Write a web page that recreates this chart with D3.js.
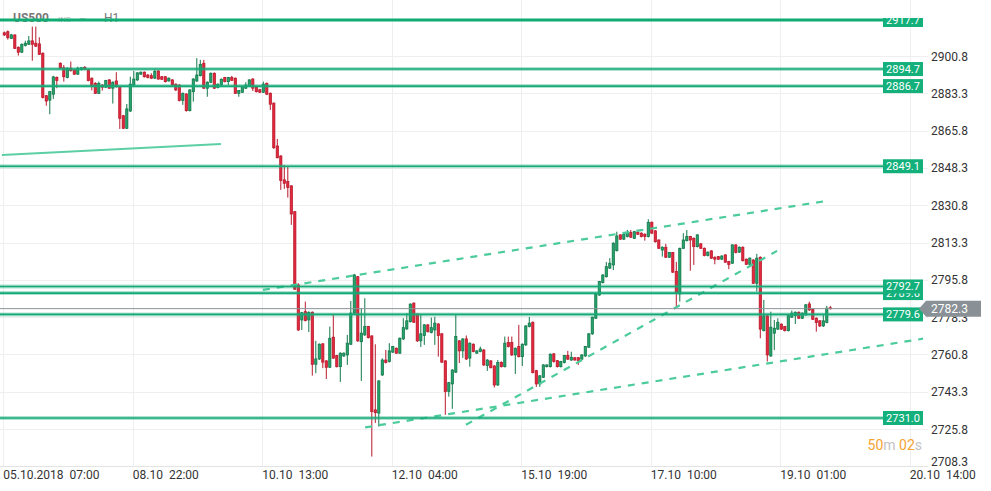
<!DOCTYPE html>
<html>
<head>
<meta charset="utf-8">
<script src="https://cdn.jsdelivr.net/npm/d3@7"></script>
<style>
  html, body { margin: 0; padding: 0; background: #fff; }
  svg { display: block; font-family: Roboto, "Noto Sans", sans-serif; }
</style>
</head>
<body>
<div id="chart"></div>
<script>
// hourly candles, 05.10.2018 07:00 onwards
var open = [2911.7,2912.2,2909.1,2910.7,2904.9,2902.6,2905.7,2906.3,2907.9,2906.8,2906.5,2902.1,2882.2,2880.1,2882.9,2890.8,2897.4,2895.3,2890.7,2895.1,
  2894.3,2892.3,2894.4,2895.5,2894.3,2890.4,2888.0,2883.3,2887.2,2886.2,2889.6,2885.7,2889.1,2886.4,2872.8,2866.9,2875.0,2887.2,2889.6,2892.3,
  2893.2,2891.9,2891.6,2890.4,2893.8,2891.1,2891.1,2889.1,2889.6,2887.6,2887.2,2879.9,2883.0,2875.2,2884.1,2889.1,2891.6,2897.4,2885.7,2888.5,
  2892.7,2886.0,2887.2,2890.7,2888.8,2890.7,2890.4,2883.3,2883.8,2885.7,2886.8,2890.0,2886.0,2885.0,2883.8,2888.0,2883.3,2878.7,2858.6,2853.9,
  2842.7,2841.9,2839.9,2827.8,2793.4,2777.0,2780.9,2777.0,2780.6,2756.2,2758.7,2765.8,2757.8,2754.8,2768.9,2760.3,2755.1,2760.1,2760.6,2765.6,
  2780.2,2797.3,2766.8,2770.0,2773.9,2769.5,2734.8,2733.3,2751.2,2758.2,2757.5,2761.9,2763.7,2761.4,2768.1,2772.8,2776.2,2784.9,2779.7,2767.2,
  2769.7,2774.7,2771.1,2772.3,2775.1,2770.5,2757.8,2743.4,2747.0,2752.5,2767.2,2762.5,2768.1,2759.1,2765.6,2761.4,2762.2,2762.9,2755.6,2757.8,
  2755.4,2746.5,2757.0,2755.1,2766.4,2766.4,2760.6,2764.5,2759.8,2765.3,2773.9,2775.9,2753.2,2747.0,2750.1,2755.1,2755.1,2761.1,2757.9,2755.1,
  2757.0,2760.3,2758.2,2759.3,2759.3,2758.6,2760.1,2764.2,2770.5,2777.8,2788.7,2794.5,2797.3,2801.3,2802.8,2809.5,2816.9,2814.9,2816.1,2818.0,
  2815.3,2818.1,2817.7,2817.2,2816.1,2822.8,2818.8,2814.5,2809.8,2811.1,2806.4,2808.6,2799.7,2789.2,2810.6,2814.2,2816.1,2815.3,2811.4,2812.7,
  2810.6,2807.2,2809.4,2806.4,2806.7,2805.5,2807.5,2804.4,2803.6,2812.2,2808.8,2811.1,2805.5,2803.1,2805.1,2794.2,2806.4,2772.0,2778.9,2760.1,
  2770.8,2772.7,2775.0,2773.9,2772.0,2778.3,2779.0,2780.6,2777.8,2779.4,2784.5,2782.0,2777.8,2776.6,2774.2,2775.8,2782.7];
var high = [2912.3,2912.8,2911.2,2910.9,2905.3,2906.7,2908.0,2910.2,2914.6,2914.6,2909.6,2902.5,2882.5,2884.4,2891.5,2891.2,2897.8,2896.6,2895.5,2898.2,
  2894.6,2895.8,2895.7,2896.1,2894.6,2890.7,2888.5,2888.8,2887.5,2889.6,2889.9,2888.9,2893.2,2886.8,2873.2,2878.3,2891.1,2893.8,2893.2,2893.6,
  2893.6,2892.3,2892.7,2894.7,2894.1,2891.4,2891.4,2890.7,2889.9,2887.9,2887.5,2883.7,2883.3,2885.2,2890.4,2899.8,2899.0,2899.0,2888.9,2893.1,
  2893.1,2887.9,2890.3,2891.0,2891.0,2891.5,2890.7,2884.9,2886.8,2888.5,2889.9,2890.4,2886.3,2885.4,2888.8,2888.4,2883.7,2879.0,2861.9,2854.3,
  2849.7,2849.2,2840.2,2828.1,2794.2,2780.8,2785.6,2781.0,2781.0,2767.2,2766.0,2766.1,2758.1,2773.9,2779.4,2760.6,2761.8,2761.8,2770.0,2785.9,
  2798.6,2797.6,2782.6,2787.2,2774.2,2769.8,2765.6,2748.7,2759.0,2762.9,2766.1,2764.8,2764.1,2768.8,2777.8,2780.2,2784.8,2785.2,2780.1,2779.4,
  2775.0,2775.0,2778.1,2778.5,2775.5,2770.8,2758.1,2747.9,2753.9,2779.4,2767.5,2768.4,2769.7,2766.5,2766.0,2762.8,2764.5,2763.3,2758.6,2758.1,
  2755.8,2758.2,2757.6,2769.2,2769.2,2769.2,2764.1,2774.7,2766.0,2774.5,2778.4,2776.3,2753.6,2751.1,2756.2,2756.2,2761.3,2761.4,2758.2,2757.8,
  2760.6,2762.5,2762.1,2759.6,2759.6,2760.9,2764.8,2770.8,2778.5,2789.4,2795.3,2798.4,2804.2,2806.0,2813.4,2818.4,2817.2,2817.6,2819.2,2819.2,
  2818.8,2819.2,2818.1,2817.6,2824.2,2823.2,2819.1,2814.8,2811.5,2812.7,2808.9,2808.9,2804.2,2810.9,2817.7,2819.2,2816.4,2815.7,2817.2,2813.0,
  2811.0,2809.1,2809.7,2806.8,2807.0,2807.3,2807.8,2804.7,2812.5,2812.5,2811.5,2811.5,2805.8,2806.3,2805.5,2808.0,2806.8,2786.4,2779.2,2780.9,
  2777.0,2777.8,2775.4,2774.2,2779.4,2781.4,2781.0,2781.0,2780.5,2784.4,2785.6,2782.4,2778.2,2776.9,2779.7,2783.6,2783.6];
var low = [2910.2,2908.5,2908.8,2904.1,2901.0,2902.2,2905.3,2906.0,2898.6,2905.1,2901.3,2880.9,2877.5,2873.5,2880.7,2885.7,2894.7,2888.8,2890.3,2893.6,
  2891.9,2891.9,2894.0,2894.3,2888.9,2884.7,2883.0,2883.0,2884.6,2885.8,2885.4,2878.5,2886.0,2866.6,2866.6,2866.6,2874.6,2886.8,2889.1,2891.9,
  2890.7,2890.3,2890.0,2890.0,2889.7,2889.6,2888.4,2888.8,2886.8,2884.4,2879.5,2877.9,2874.7,2874.8,2879.4,2888.6,2891.2,2885.4,2881.7,2888.1,
  2885.4,2885.6,2886.8,2888.4,2887.2,2889.1,2883.0,2881.7,2883.5,2885.4,2886.3,2884.4,2883.7,2883.5,2883.5,2882.5,2875.5,2857.2,2852.8,2838.0,
  2838.5,2834.4,2821.6,2791.1,2771.9,2772.3,2776.3,2771.3,2750.9,2752.0,2758.2,2754.4,2749.3,2754.5,2758.7,2754.7,2747.9,2759.7,2755.9,2765.3,
  2779.8,2766.7,2748.4,2769.5,2768.3,2712.9,2728.7,2727.0,2750.7,2756.6,2757.0,2761.5,2761.1,2761.1,2767.6,2772.3,2775.8,2775.6,2766.7,2764.3,
  2765.3,2771.1,2770.7,2765.3,2759.8,2756.8,2732.5,2741.0,2735.3,2752.1,2756.8,2759.2,2758.2,2755.1,2761.8,2761.1,2761.8,2755.4,2753.1,2754.3,
  2745.3,2746.0,2754.7,2754.7,2764.1,2760.1,2751.7,2759.4,2755.4,2764.8,2773.5,2751.9,2745.6,2745.6,2749.8,2754.7,2754.7,2757.0,2754.7,2754.7,
  2756.6,2758.2,2757.8,2757.9,2755.9,2758.2,2759.7,2763.9,2770.0,2777.5,2788.3,2794.1,2796.9,2800.9,2800.4,2809.1,2814.5,2814.5,2815.7,2815.5,
  2815.0,2816.9,2815.7,2814.2,2815.7,2817.3,2813.3,2810.3,2806.7,2806.1,2806.1,2799.0,2783.1,2785.6,2810.3,2813.8,2800.1,2802.8,2811.0,2810.3,
  2806.8,2806.8,2805.6,2803.1,2805.1,2805.1,2803.7,2800.8,2803.3,2808.2,2808.4,2804.4,2802.8,2802.8,2793.9,2790.3,2768.4,2771.6,2757.5,2759.7,
  2762.9,2772.3,2772.3,2771.6,2771.6,2778.0,2775.1,2777.5,2777.5,2778.9,2781.2,2777.0,2771.5,2773.7,2773.7,2775.4,2782.0];
var close = [2910.7,2909.4,2910.7,2904.4,2902.6,2906.3,2906.8,2907.9,2906.3,2905.4,2901.6,2881.3,2879.7,2884.1,2891.0,2889.3,2895.1,2891.1,2895.1,2893.9,
  2892.3,2895.1,2895.3,2894.6,2889.3,2886.8,2883.3,2888.0,2886.2,2889.3,2885.7,2888.5,2886.4,2871.6,2866.9,2876.0,2887.6,2890.0,2892.9,2893.2,
  2891.1,2890.7,2890.4,2893.5,2890.0,2889.9,2888.8,2890.4,2887.2,2884.9,2879.9,2883.3,2875.2,2884.9,2890.0,2891.9,2896.9,2885.7,2888.5,2892.7,
  2885.7,2887.6,2889.9,2888.8,2890.7,2889.4,2883.3,2884.6,2886.4,2887.2,2889.6,2885.7,2884.1,2883.8,2887.6,2882.9,2878.2,2857.8,2853.1,2842.4,
  2841.1,2839.1,2826.7,2791.4,2772.3,2780.4,2776.7,2780.6,2756.2,2758.7,2765.6,2757.2,2754.8,2768.4,2759.1,2755.1,2761.4,2761.4,2766.1,2780.2,
  2798.1,2767.2,2770.8,2773.9,2768.7,2734.0,2733.5,2748.4,2758.2,2757.0,2762.5,2764.5,2761.4,2768.4,2773.4,2776.6,2784.4,2775.9,2767.2,2770.5,
  2774.7,2771.5,2773.4,2775.5,2769.7,2757.2,2743.4,2747.6,2753.5,2769.2,2762.5,2768.1,2758.7,2766.1,2762.2,2762.5,2763.4,2755.9,2758.2,2754.6,
  2746.5,2757.0,2755.1,2766.1,2764.5,2760.6,2763.7,2759.8,2765.6,2774.2,2775.5,2752.3,2747.0,2750.8,2755.9,2755.9,2760.9,2757.5,2755.1,2757.5,
  2760.3,2758.6,2759.5,2758.2,2758.0,2760.6,2764.5,2770.5,2778.3,2789.1,2795.0,2798.1,2802.0,2803.6,2813.0,2816.4,2814.9,2817.2,2818.0,2815.8,
  2818.4,2817.2,2816.1,2816.1,2822.8,2817.7,2813.7,2810.6,2811.1,2806.4,2808.6,2799.4,2789.8,2810.6,2814.5,2816.1,2814.5,2811.4,2816.9,2810.6,
  2807.2,2808.8,2806.0,2805.5,2805.5,2807.0,2804.1,2803.0,2812.2,2808.6,2811.1,2804.8,2803.1,2806.0,2794.2,2806.0,2772.7,2778.9,2760.6,2773.6,
  2773.1,2775.9,2772.7,2772.0,2779.0,2780.2,2780.6,2777.8,2780.2,2784.1,2781.7,2777.3,2775.8,2774.2,2776.6,2782.5,2782.3];

var tickIdx = [0, 37, 74, 111, 148, 185, 222, 259];
var tickLabels = ["05.10.2018  07:00", "08.10  22:00", "10.10  13:00", "12.10  04:00",
                  "15.10  19:00", "17.10  10:00", "19.10  01:00", "20.10  14:00"];
var yTicks = [2900.8, 2883.3, 2865.8, 2848.3, 2830.8, 2813.3, 2795.8, 2778.3, 2760.8, 2743.3, 2725.8, 2708.3];

// horizontal levels (2789.6 first so its tag sits behind 2792.7)
var levels = [2917.7, 2894.7, 2886.7, 2849.1, 2789.6, 2792.7, 2779.6, 2731.0];
var lastPrice = 2782.3;

// trend lines as [candle index, price] pairs
var solidLine = [[-0.7, 2854.4], [61.9, 2859.5]];
var dashLines = [
  [[73.9, 2791.1], [234.8, 2832.8]],
  [[103.1, 2726.6], [262.5, 2768.2]],
  [[131.9, 2727.8], [220.8, 2809.4]]
];

var W = 991, H = 491;
var plotR = 923, plotB = 466;

var x = d3.scaleLinear().domain([0, 259]).range([4.3, 910.8]);
var y = d3.scaleLinear().domain([2708.3, 2917.7]).range([466.4, 20]);

var svg = d3.select("#chart").append("svg")
    .attr("width", W).attr("height", H);

// grid
svg.append("g").selectAll("line")
   .data(yTicks.slice(0, -1)).enter().append("line")
   .attr("x1", 0).attr("x2", 928)
   .attr("y1", function(d) { return Math.round(y(d)) + 0.5; })
   .attr("y2", function(d) { return Math.round(y(d)) + 0.5; })
   .attr("stroke", "#efefef");

svg.append("g").selectAll("line")
   .data(tickIdx).enter().append("line")
   .attr("x1", function(d) { return Math.round(x(d)) - 0.5; })
   .attr("x2", function(d) { return Math.round(x(d)) - 0.5; })
   .attr("y1", 0).attr("y2", plotB + 1)
   .attr("stroke", "#efefef");

svg.append("line")
   .attr("x1", 0).attr("x2", 928).attr("y1", plotB + 0.5).attr("y2", plotB + 0.5)
   .attr("stroke", "#e3e3e3");

// title
var title = svg.append("text").attr("x", 13).attr("y", 22).attr("fill", "#777");
title.append("tspan").text("US500").attr("font-size", 12).attr("font-weight", "bold");
title.append("tspan").text("IND").attr("x", 58).attr("font-size", 8).attr("fill", "#b5b5b5");
title.append("tspan").text("—").attr("x", 79).attr("font-size", 9).attr("fill", "#b5b5b5");
title.append("tspan").text("H1").attr("x", 104).attr("font-size", 12);

// candles
var idx = d3.range(open.length);
var upFill = "#27a26d", upLine = "#12784a";
var dnFill = "#e4283e", dnLine = "#b8192c";

var candles = svg.append("g").selectAll("g")
   .data(idx).enter().append("g");

candles.append("line")
   .attr("x1", function(i) { return x(i); })
   .attr("x2", function(i) { return x(i); })
   .attr("y1", function(i) { return y(high[i]); })
   .attr("y2", function(i) { return y(low[i]); })
   .attr("stroke", function(i) { return close[i] >= open[i] ? upLine : dnLine; })
   .attr("stroke-width", 1);

candles.append("rect")
   .attr("x", function(i) { return x(i) - 1.1; })
   .attr("width", 2.2)
   .attr("y", function(i) { return y(Math.max(open[i], close[i])); })
   .attr("height", function(i) { return Math.max(1, Math.abs(y(open[i]) - y(close[i]))); })
   .attr("fill", function(i) { return close[i] >= open[i] ? upFill : dnFill; })
   .attr("stroke", function(i) { return close[i] >= open[i] ? upLine : dnLine; })
   .attr("stroke-width", 0.8);

// trend lines
var line = d3.line()
   .x(function(d) { return x(d[0]); })
   .y(function(d) { return y(d[1]); });

svg.append("path").datum(solidLine)
   .attr("d", line).attr("fill", "none")
   .attr("stroke", "#5ccfa4").attr("stroke-width", 2);

svg.append("g").selectAll("path")
   .data(dashLines).enter().append("path")
   .attr("d", line).attr("fill", "none")
   .attr("stroke", "#4ccb9b").attr("stroke-width", 2.2)
   .attr("stroke-dasharray", "7,7");

// current price line
svg.append("line")
   .attr("x1", 0).attr("x2", plotR)
   .attr("y1", y(lastPrice)).attr("y2", y(lastPrice))
   .attr("stroke", "#8b9398").attr("stroke-width", 1);

// level lines
var lv = svg.append("g").selectAll("g")
   .data(levels).enter().append("g");

lv.append("line")
   .attr("x1", 0).attr("x2", plotR)
   .attr("y1", function(d) { return y(d); })
   .attr("y2", function(d) { return y(d); })
   .attr("stroke", function(d, i) { return i === 0 ? "#0fac74" : "rgba(24,175,122,0.35)"; })
   .attr("stroke-width", function(d, i) { return i === 0 ? 3 : 4; });

lv.filter(function(d, i) { return i > 0; }).append("line")
   .attr("x1", 0).attr("x2", plotR)
   .attr("y1", function(d) { return y(d); })
   .attr("y2", function(d) { return y(d); })
   .attr("stroke", "#16a877").attr("stroke-width", 1.6);

// level tags
svg.append("clipPath").attr("id", "tagclip")
   .append("rect").attr("x", 0).attr("y", 18).attr("width", W).attr("height", H);

var tags = svg.append("g").attr("clip-path", "url(#tagclip)")
   .selectAll("g").data(levels).enter().append("g");

tags.append("rect")
   .attr("x", 883).attr("width", 40)
   .attr("y", function(d) { return y(d) - 7; })
   .attr("height", 14)
   .attr("fill", "#14b07b");

tags.append("text")
   .attr("x", 903).attr("y", function(d) { return y(d) + 4; })
   .attr("text-anchor", "middle")
   .attr("font-size", 11).attr("fill", "#fff")
   .text(function(d) { return d.toFixed(1); });

// y axis labels
svg.append("g").selectAll("text")
   .data(yTicks).enter().append("text")
   .attr("x", 931)
   .attr("y", function(d) { return Math.min(y(d), 461) + 4.5; })
   .attr("font-size", 12).attr("fill", "#333")
   .text(function(d) { return d.toFixed(1); });

// last price tag
var ly = y(lastPrice);
svg.append("path")
   .attr("d", "M919," + ly + "L926," + (ly - 8) + "H981V" + (ly + 8) + "H926Z")
   .attr("fill", "#899196");
svg.append("text")
   .attr("x", 931).attr("y", ly + 4.5)
   .attr("font-size", 12).attr("fill", "#fff")
   .text(lastPrice.toFixed(1));

// x axis labels
svg.append("g").selectAll("text")
   .data(tickIdx).enter().append("text")
   .attr("x", function(d) { return x(d) - 1; })
   .attr("y", 479)
   .attr("font-size", 12).attr("fill", "#333")
   .style("white-space", "pre")
   .text(function(d, i) { return tickLabels[i]; });

// bar timer
var timer = svg.append("text")
   .attr("x", 922).attr("y", 450)
   .attr("text-anchor", "end").attr("font-size", 14);
timer.append("tspan").text("50").attr("fill", "#f5a431");
timer.append("tspan").text("m ").attr("fill", "#c3c3c3");
timer.append("tspan").text("02").attr("fill", "#f5a431");
timer.append("tspan").text("s").attr("fill", "#c3c3c3");
</script>
</body>
</html>
